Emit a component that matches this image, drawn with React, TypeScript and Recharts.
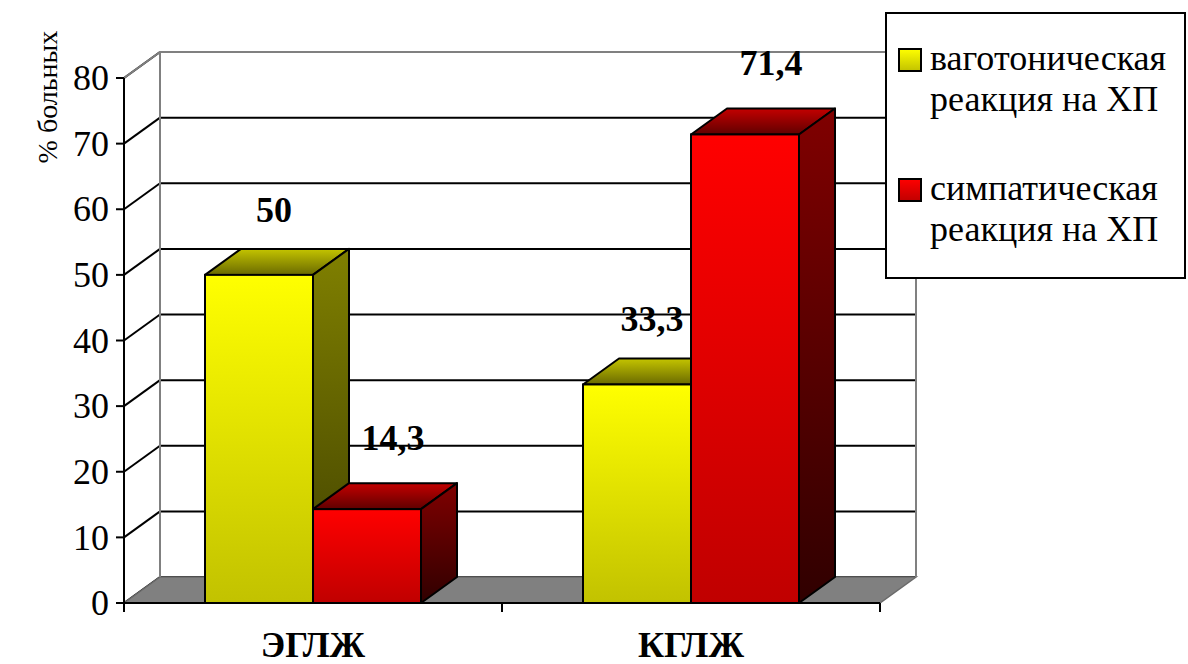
import React from 'react';
import { BarChart, Bar, XAxis, YAxis, CartesianGrid, Legend, LabelList, ReferenceArea } from 'recharts';

const categories = ['ЭГЛЖ', 'КГЛЖ'];
const vagotonic = [50, 33.3];
const sympathetic = [14.3, 71.4];
const yTicks = [0, 10, 20, 30, 40, 50, 60, 70, 80];
const seriesNames = ['ваготоническая реакция на ХП', 'симпатическая реакция на ХП'];
const yAxisTitle = '% больных';

const data = categories.map((c, i) => ({ category: c, vag: vagotonic[i], sym: sympathetic[i] }));

const DX = 36;
const DY = 26;
const FONT = 'Liberation Serif';

const gridLine = (props: any) => {
  const { x1, y1, x2, index } = props;
  return (
    <g key={`gl-${index}`}>
      <line x1={x1} y1={y1} x2={x1 + DX} y2={y1 - DY} stroke="#000" strokeWidth={2} />
      <line x1={x1 + DX} y1={y1 - DY} x2={x2 + DX} y2={y1 - DY} stroke="#000" strokeWidth={2} />
    </g>
  );
};

const Wall = (props: any) => {
  const { x, y, width, height } = props;
  if (x == null) return null;
  const b = y + height;
  const r = x + width;
  const g = '#808080';
  return (
    <g>
      <polygon
        points={`${x},${b} ${r},${b} ${r + DX},${b - DY} ${x + DX},${b - DY}`}
        fill={g}
        stroke="#6a6a6a"
        strokeWidth={1.5}
      />
      <line x1={x + DX} y1={y - DY} x2={x + DX} y2={b - DY} stroke={g} strokeWidth={2} />
      <line x1={r + DX} y1={y - DY} x2={r + DX} y2={b - DY} stroke={g} strokeWidth={2} />
      <line x1={x} y1={y} x2={x + DX} y2={y - DY} stroke={g} strokeWidth={2} />
      <line x1={x + DX} y1={y - DY} x2={r + DX} y2={y - DY} stroke={g} strokeWidth={2} />
    </g>
  );
};

const makeBox = (front: string, top: string, side: string) => (props: any) => {
  const { x, y, width: w, height: h } = props;
  if (x == null || w == null) return null;
  return (
    <g>
      <polygon
        points={`${x},${y} ${x + DX},${y - DY} ${x + w + DX},${y - DY} ${x + w},${y}`}
        fill={top}
        stroke="#000"
        strokeWidth={2}
        strokeLinejoin="round"
      />
      <polygon
        points={`${x + w},${y} ${x + w + DX},${y - DY} ${x + w + DX},${y + h - DY} ${x + w},${y + h}`}
        fill={side}
        stroke="#000"
        strokeWidth={2}
        strokeLinejoin="round"
      />
      <rect x={x} y={y} width={w} height={h} fill={front} stroke="#000" strokeWidth={2} />
    </g>
  );
};

const makeLabel = (ox: number, oy: number) => (props: any) => {
  const { x, y, width, value } = props;
  if (x == null) return null;
  return (
    <text
      x={x + width / 2 + ox}
      y={y - oy}
      textAnchor="middle"
      style={{ fontFamily: FONT, fontWeight: 'bold', fontSize: 36 }}
      fill="#000"
    >
      {String(value).replace('.', ',')}
    </text>
  );
};

const CatTick = (props: any) => {
  const { x, y, payload } = props;
  const off = payload && payload.offset != null ? payload.offset : 0;
  return (
    <g>
      <line x1={x - off} y1={y} x2={x - off} y2={y + 9} stroke="#000" strokeWidth={2} />
      <line x1={x + off} y1={y} x2={x + off} y2={y + 9} stroke="#000" strokeWidth={2} />
      <text
        x={x}
        y={y + 54}
        textAnchor="middle"
        style={{ fontFamily: FONT, fontWeight: 'bold', fontSize: 36 }}
        fill="#000"
      >
        {payload.value}
      </text>
    </g>
  );
};

const YTick = (props: any) => {
  const { x, y, payload } = props;
  return (
    <text x={x} y={y} dy="0.34em" textAnchor="end" style={{ fontFamily: FONT, fontSize: 36 }} fill="#000">
      {payload.value}
    </text>
  );
};

const YTitle = (props: any) => {
  const vb = props.viewBox || { x: 0, y: 0 };
  const cx = vb.x + 23;
  const cy = vb.y + 19;
  return (
    <text
      x={cx}
      y={cy}
      transform={`rotate(-90 ${cx} ${cy})`}
      textAnchor="middle"
      dominantBaseline="central"
      style={{ fontFamily: FONT, fontSize: 28 }}
      fill="#000"
    >
      {yAxisTitle}
    </text>
  );
};

const LegendBox = (props: any) => {
  const payload = props.payload || [];
  return (
    <div
      style={{
        width: 301,
        height: 267,
        boxSizing: 'border-box',
        border: '2px solid #000',
        background: '#fff',
        paddingTop: 24,
        fontFamily: FONT,
        fontSize: 36,
        lineHeight: '41px',
        color: '#000',
        textAlign: 'left',
      }}
    >
      {payload.map((e: any, i: number) => (
        <div key={i} style={{ display: 'flex', alignItems: 'flex-start', marginBottom: 48, paddingLeft: 11 }}>
          <svg width={24} height={24} style={{ marginTop: 10, flex: 'none' }}>
            <rect x={1} y={1} width={22} height={22} fill={e.color} stroke="#000" strokeWidth={2} />
          </svg>
          <span style={{ marginLeft: 8, width: 250, fontFamily: FONT }}>{e.value}</span>
        </div>
      ))}
    </div>
  );
};

export default function App() {
  return (
    <div style={{ position: 'absolute', left: 0, top: 0, width: 1188, height: 664, background: '#fff', fontFamily: FONT }}>
      <BarChart
        width={1188}
        height={664}
        data={data}
        barGap={0}
        barCategoryGap={81}
        margin={{ top: 78, right: 7, bottom: 0, left: 24 }}
        style={{ fontFamily: FONT }}
      >
        <defs>
          <linearGradient id="yFront" x1="0" y1="0" x2="0" y2="1">
            <stop offset="0%" stopColor="#FFFF00" />
            <stop offset="100%" stopColor="#C2C200" />
          </linearGradient>
          <linearGradient id="yTop" x1="0" y1="0" x2="0" y2="1">
            <stop offset="0%" stopColor="#C4C400" />
            <stop offset="100%" stopColor="#6A6A00" />
          </linearGradient>
          <linearGradient id="ySide" x1="0" y1="0" x2="0" y2="1">
            <stop offset="0%" stopColor="#808000" />
            <stop offset="100%" stopColor="#404000" />
          </linearGradient>
          <linearGradient id="rFront" x1="0" y1="0" x2="0" y2="1">
            <stop offset="0%" stopColor="#FF0000" />
            <stop offset="100%" stopColor="#C00000" />
          </linearGradient>
          <linearGradient id="rTop" x1="0" y1="0" x2="0" y2="1">
            <stop offset="0%" stopColor="#C40000" />
            <stop offset="100%" stopColor="#600000" />
          </linearGradient>
          <linearGradient id="rSide" x1="0" y1="0" x2="0" y2="1">
            <stop offset="0%" stopColor="#800000" />
            <stop offset="100%" stopColor="#300000" />
          </linearGradient>
        </defs>
        <CartesianGrid horizontal={gridLine} vertical={false} />
        <ReferenceArea y1={0} y2={80} shape={Wall} ifOverflow="visible" />
        <XAxis
          dataKey="category"
          axisLine={{ stroke: '#000', strokeWidth: 2 }}
          tickLine={false}
          tickSize={0}
          tickMargin={0}
          tick={CatTick}
          height={61}
          interval={0}
        />
        <YAxis
          domain={[0, 80]}
          ticks={yTicks}
          width={100}
          interval={0}
          axisLine={{ stroke: '#000', strokeWidth: 2 }}
          tickLine={{ stroke: '#000', strokeWidth: 2 }}
          tickSize={8}
          tickMargin={7}
          tick={YTick}
          label={{ content: YTitle }}
        />
        <Legend
          layout="vertical"
          align="right"
          verticalAlign="top"
          width={301}
          content={LegendBox}
          wrapperStyle={{ left: 885, top: 12, right: 'auto' }}
        />
        <Bar
          dataKey="vag"
          name={seriesNames[0]}
          fill="url(#yFront)"
          shape={makeBox('url(#yFront)', 'url(#yTop)', 'url(#ySide)')}
          isAnimationActive={false}
        >
          <LabelList dataKey="vag" content={makeLabel(15, 53)} />
        </Bar>
        <Bar
          dataKey="sym"
          name={seriesNames[1]}
          fill="url(#rFront)"
          shape={makeBox('url(#rFront)', 'url(#rTop)', 'url(#rSide)')}
          isAnimationActive={false}
        >
          <LabelList dataKey="sym" content={makeLabel(26, 59)} />
        </Bar>
      </BarChart>
    </div>
  );
}
